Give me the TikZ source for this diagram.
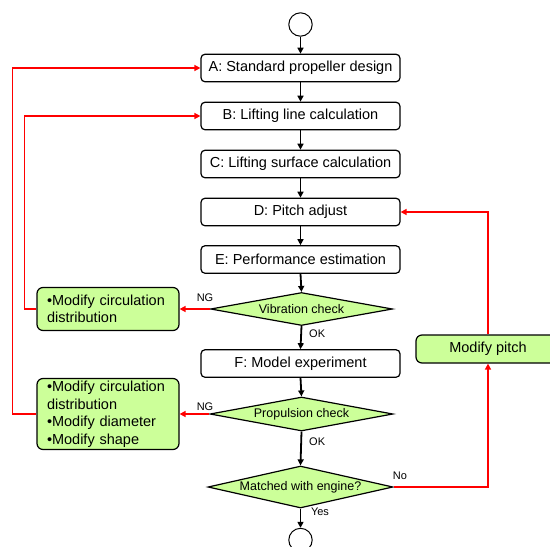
\documentclass[tikz,border=0pt]{standalone}
\usepackage{fontspec}
\setmainfont{Liberation Sans}
\usetikzlibrary{shapes.geometric,arrows.meta}
\definecolor{lgreen}{HTML}{CCFF99}
\begin{document}
\begin{tikzpicture}[x=1pt,y=-1pt,
 proc/.style={draw, line width=1.2pt, rounded corners=4pt, fill=white, minimum width=199pt, minimum height=27.5pt, inner sep=0pt, font=\fontsize{14.5}{17}\selectfont},
 gbox/.style={draw, line width=1.2pt, rounded corners=6pt, fill=lgreen, inner xsep=10pt, inner ysep=0pt, align=left, font=\fontsize{14.5}{17.5}\selectfont},
 dec/.style={diamond, draw, line width=1.2pt, fill=lgreen, inner sep=0pt, font=\fontsize{12.5}{14}\selectfont},
 term/.style={circle, draw, line width=1pt, minimum size=23.4pt, inner sep=0pt},
 flow/.style={line width=1.8pt, -{Triangle[length=6pt,width=6pt]}},
 back/.style={red, line width=1.8pt, -{Triangle[length=6pt,width=6pt]}},
 lab/.style={font=\fontsize{11}{13}\selectfont, inner sep=0pt}
]
\useasboundingbox (0,0) rectangle (550,547);
\clip (0,0) rectangle (550,547);

\node[term] (start) at (300.5,24.5) {};
\node[proc] (A) at (300.5,68) {A: Standard propeller design};
\node[proc] (B) at (300.5,116) {B: Lifting line calculation};
\node[proc] (C) at (300.5,164) {C: Lifting surface calculation};
\node[proc] (D) at (300.5,212) {D: Pitch adjust};
\node[proc] (E) at (300.5,259.5) {E: Performance estimation};
\node[dec, shape aspect=5.5, minimum width=182pt, minimum height=33pt] (vib) at (301.5,309) {Vibration check};
\node[proc] (F) at (300.5,363.5) {F: Model experiment};
\node[dec, shape aspect=5.4, minimum width=183pt, minimum height=34pt] (prop) at (301.5,414) {Propulsion check};
\node[dec, shape aspect=4.4, minimum width=185pt, minimum height=42pt] (match) at (300.5,487) {Matched with engine?};
\node[term] (end) at (300.5,540) {};

\node[gbox, text width=122pt, minimum height=43pt] (g1) at (108,309) {•Modify circulation\\distribution};
\node[gbox, text width=122pt, minimum height=71pt] (g2) at (108,414) {•Modify circulation\\distribution\\•Modify diameter\\•Modify shape};
\node[gbox, align=center, minimum width=144pt, minimum height=28pt] (pitch) at (488,349) {Modify pitch};

\draw[flow] (start.south) -- (A.north);
\draw[flow] (A.south) -- (B.north);
\draw[flow] (B.south) -- (C.north);
\draw[flow] (C.south) -- (D.north);
\draw[flow] (D.south) -- (E.north);
\draw[flow] (E.south) -- (vib.north);
\draw[flow] (vib.south) -- (F.north);
\draw[flow] (F.south) -- (prop.north);
\draw[flow] (prop.south) -- (match.north);
\draw[flow] (match.south) -- (end.north);

\draw[back] (vib.west) -- (g1.east);
\draw[back] (prop.west) -- (g2.east);
\draw[back] (g1.west) -- ++(-12,0) |- (B.west);
\draw[back] (g2.west) -- ++(-24,0) |- (A.west);
\draw[back] (match.east) -| (pitch.south);
\draw[back] (pitch.north) |- (D.east);

\node[lab, anchor=east] at (213.5,298) {NG};
\node[lab, anchor=east] at (213.5,407) {NG};
\node[lab, anchor=west] at (309,334) {OK};
\node[lab, anchor=west] at (309,442) {OK};
\node[lab] at (400,476) {No};
\node[lab] at (320,512) {Yes};
\end{tikzpicture}
\end{document}
